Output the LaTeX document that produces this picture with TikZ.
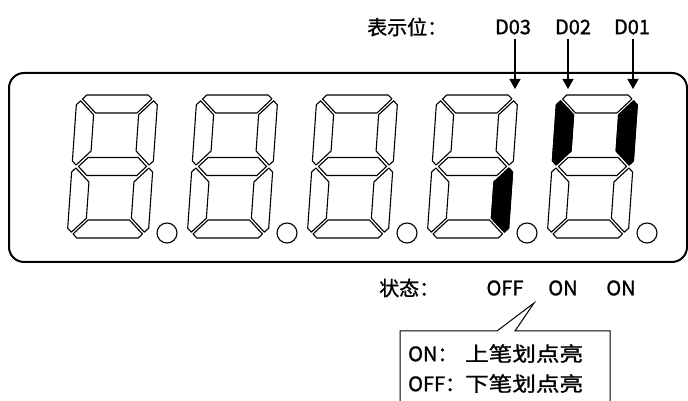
\documentclass[tikz,border=0pt]{standalone}
\usepackage{fontspec}
\setmainfont{Noto Sans CJK SC}
\newfontfamily\lblfont{Noto Sans CJK SC}[FakeBold=1.2]
\usetikzlibrary{arrows.meta}

% segment outlines of one digit, centred on the digit
\newcommand\segtop{(-30.7,71.5) -- (30.7,71.5) -- (34.7,67.5) -- (20.7,53.5) -- (-20.7,53.5) -- (-34.7,67.5) -- cycle}
\newcommand\segside{(40.5,61.7) -- (36.5,65.7) -- (22.5,51.7) -- (22.5,15.5) -- (36.5,1.5) -- (40.5,5.5) -- cycle}
\newcommand\segmid{(-34,0) -- (-25,9) -- (25,9) -- (34,0) -- (25,-9) -- (-25,-9) -- cycle}

\tikzset{
    digit/.style={shift={(#1,234.5)}, xslant=0.07},
    seg/.style={draw, line width=1.1pt, line join=round},
    lit/.style={seg, fill=black},
    arr/.style={line width=1.2pt, -{Triangle[length=10pt,width=11pt]}},
    lbl/.style={font=\lblfont\fontsize{20}{30}\selectfont, inner sep=0pt},
}

\begin{document}
\begin{tikzpicture}[x=1pt, y=1pt]
            \useasboundingbox (0,0) rectangle (688,401);
            % frame
            \draw[line width=2pt, rounded corners=15pt] (9,139) rectangle (687,328);
            % digits
            \foreach \cx [count=\d] in {112.5,232.5,...,592.5}{
                \begin{scope}[digit=\cx]
                    \draw[seg] \segtop;
                    \draw[seg, yscale=-1] \segtop;
                    \draw[seg] \segmid;
                    \foreach \sx/\sy in {1/1,1/-1,-1/1,-1/-1}{\draw[seg, xscale=\sx, yscale=\sy] \segside;}
                \end{scope}
                \node[circle, draw, line width=1.1pt, minimum size=20pt, inner sep=0pt] (dot\d) at (\cx+54.5,168) {};
            }
            % lit segments
            \begin{scope}[digit=472.5]
                \draw[lit, yscale=-1] \segside;
            \end{scope}
            \begin{scope}[digit=592.5]
                \draw[lit] \segside;
                \draw[lit, xscale=-1] \segside;
            \end{scope}
            % bit positions
            \node[lbl, anchor=west] (pos) at (367,374) {表示位：};
            \node[lbl] (d03) at (513,374) {D03};
            \node[lbl] (d02) at (573,374) {D02};
            \node[lbl] (d01) at (632,374) {D01};
            \coordinate (t03) at (515,312);
            \coordinate (t02) at (568,312);
            \coordinate (t01) at (633,312);
            \draw[arr] (d03.south -| t03) ++(0,-4) -- (t03);
            \draw[arr] (d02.south -| t02) ++(0,-4) -- (t02);
            \draw[arr] (d01.south -| t01) ++(0,-4) -- (t01);
            % states
            \node[lbl, anchor=west] (state) at (379,113) {状态：};
            \node[lbl] (s03) at (505,113) {OFF};
            \node[lbl] (s02) at (563,113) {ON};
            \node[lbl] (s01) at (621,113) {ON};
            % note
            \coordinate (tip) at (534,98);
            \draw[line width=1pt] (400,-2) -- (400,70) -- (497,70) -- (tip) -- (515,70) -- (610,70) -- (610,-2);
            \node[lbl, anchor=north west] (note) at (408,61) {\begin{tabular}{@{}l@{}l@{}}ON： & \scalebox{1.18}[1]{上笔划点亮}\\ OFF：& \scalebox{1.18}[1]{下笔划点亮}\end{tabular}};
\end{tikzpicture}
\end{document}
